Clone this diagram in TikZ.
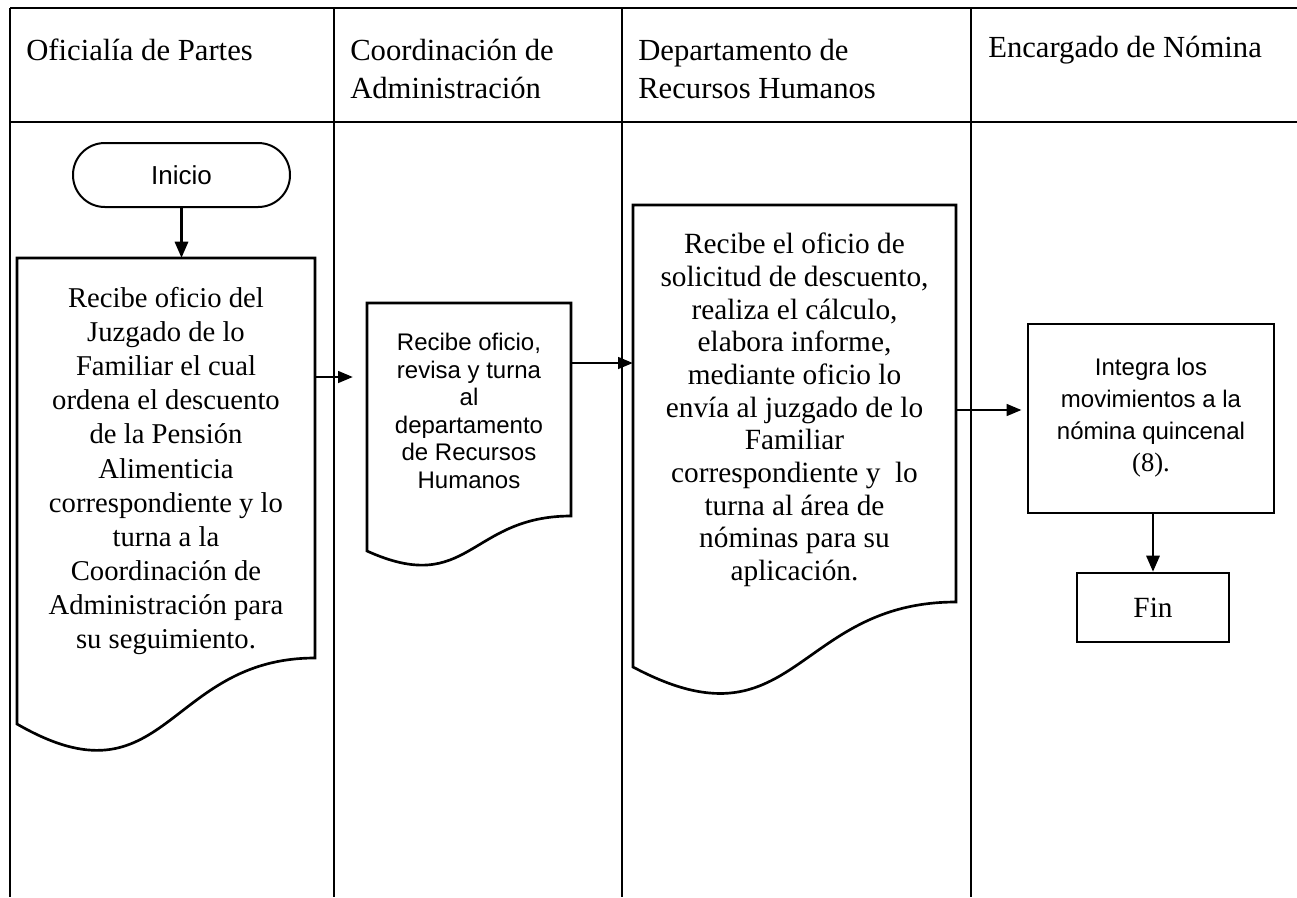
\documentclass[tikz,border=0pt]{standalone}
\usepackage{fontspec}
\setmainfont{Liberation Serif}
\newfontfamily\arialf{Liberation Sans}
\usetikzlibrary{arrows.meta,fit}
\begin{document}
\begin{tikzpicture}[x=0.75pt,y=-0.75pt,
  gridline/.style={line width=1.1pt},
  docbox/.style={line width=2pt,line join=miter},
  arr/.style={line width=1pt,-{Triangle[length=11pt,width=9pt]}},
  thickarr/.style={line width=1.6pt,-{Triangle[length=12pt,width=10pt]}},
  hdr/.style={font=\fontsize{23}{28.5}\selectfont,inner sep=0pt,anchor=west,align=left},
  sertext/.style={font=\fontsize{21.5}{25.6}\selectfont,inner sep=0pt,align=center},
  santext/.style={font=\arialf\fontsize{18}{20.6}\selectfont,inner sep=0pt,align=center},
  framebox/.style={inner sep=0pt,draw=none}]
\useasboundingbox (0,0) rectangle (1297,897);
% table
\draw[gridline] (10,8) -- (1297,8);
\draw[gridline] (10,122) -- (1297,122);
\foreach \x in {10,334,622,971} \draw[gridline] (\x,8) -- (\x,897);
% headers
\node[hdr] (h1) at (26,50) {Oficialía de Partes};
\node[hdr] (h2) at (350,69) {Coordinación de\\Administración};
\node[hdr] (h3) at (638,69) {Departamento de\\Recursos Humanos};
\node[hdr] (h4) at (988,50) {Encargado de Nómina};
% start
\node[draw,line width=1.5pt,rounded corners=23.9pt,minimum width=162.75pt,minimum height=48pt,
      font=\arialf\fontsize{19.5}{22}\selectfont] (ini) at (181.5,175) {Inicio};
% document box 1
\draw[docbox] (17,258) -- (315,258) -- (315,658) .. controls (166,658) and (166,810) .. (17,724) -- cycle;
\node[framebox,fit={(17,258) (315,757)}] (b1) {};
\node[sertext] (t1) at (166,471) {Recibe oficio del\\Juzgado de lo\\Familiar el cual\\ordena el descuento\\de la Pensión\\Alimenticia\\correspondiente y lo\\turna a la\\Coordinación de\\Administración para\\su seguimiento.};
% document box 2
\draw[docbox] (367,303) -- (571,303) -- (571,516) .. controls (469,516) and (469,597) .. (367,551) -- cycle;
\node[framebox,fit={(367,303) (571,569)}] (b2) {};
\node[santext] (t2) at (469,411) {Recibe oficio,\\revisa y turna\\al\\departamento\\de Recursos\\Humanos};
% document box 3
\draw[docbox] (633,205) -- (956,205) -- (956,602) .. controls (794.5,602) and (794.5,753) .. (633,667) -- cycle;
\node[framebox,fit={(633,205) (956,700)}] (b3) {};
\node[sertext,font=\fontsize{22}{24.5}\selectfont] (t3) at (794.5,410) {Recibe el oficio de\\solicitud de descuento,\\realiza el cálculo,\\elabora informe,\\mediante oficio lo\\envía al juzgado de lo\\Familiar\\correspondiente y\ \ lo\\turna al área de\\nóminas para su\\aplicación.};
% box 4
\node[draw,line width=2pt,minimum width=184.5pt,minimum height=141.75pt,inner sep=0pt] (b4) at (1151,418.5) {};
\node[santext,font=\arialf\fontsize{18}{24}\selectfont] (t4) at (1151,418) {Integra los\\movimientos a la\\nómina quincenal\\{\rmfamily\fontsize{20}{24}\selectfont (8).}};
% end
\node[draw,line width=2pt,minimum width=114pt,minimum height=51.75pt,inner sep=0pt,
      font=\fontsize{22}{26}\selectfont] (fin) at (1153,607.5) {Fin};
% connectors
\draw[thickarr] (ini.south) -- (ini.south |- b1.north);
\draw[arr,shorten >=10.5pt] (b1.east |- 0,377) -- (b2.west |- 0,377);
\draw[arr] (b2.east |- 0,363) -- (b3.west |- 0,363);
\draw[arr,shorten >=4pt] (b3.east |- 0,410) -- (b4.west |- 0,410);
\draw[thickarr] (fin.north |- b4.south) -- (fin.north);
\end{tikzpicture}
\end{document}
